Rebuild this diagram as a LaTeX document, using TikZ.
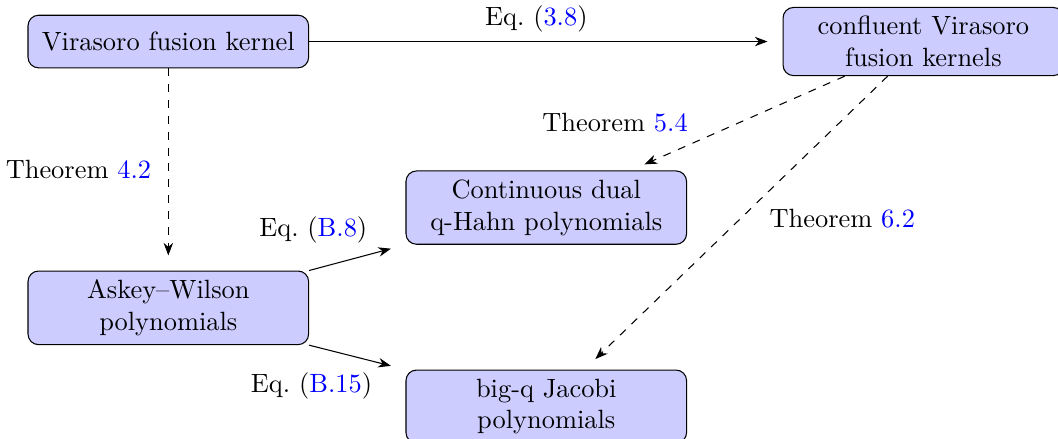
\documentclass[tikz,border=0pt]{standalone}
\usetikzlibrary{positioning, arrows.meta}
\definecolor{boxcol}{RGB}{204, 204, 255}
\definecolor{refcol}{RGB}{0, 0, 255}
\newcommand{\refnum}[1]{\textcolor{refcol}{#1}}
\tikzset{
  objbox/.style={draw, rounded corners, fill=boxcol, text width=3.5cm,
                 minimum height=0.7cm, align=center},
  link/.style={-{Stealth}, shorten >=2mm},
  limit/.style={link, dashed},
}

\begin{document}
\begin{tikzpicture}
  \useasboundingbox (-2.24, 0.553) rectangle (11.84, -5.28);

  \node[objbox]                       (vfk)  {Virasoro fusion kernel};
  \node[objbox, right=6.3cm of vfk]   (cvfk) {confluent Virasoro\\fusion kernels};
  \node[objbox, below=2.69cm of vfk]  (aw)   {Askey--Wilson\\polynomials};
  \node[objbox] at (5.03, -2.21)      (cdqh) {Continuous dual\\q-Hahn polynomials};
  \node[objbox, below=1.66cm of cdqh] (bqj)  {big-q Jacobi\\polynomials};

  \draw[link]  (vfk) -- node[above, pos=0.48] {Eq.~(\refnum{3.8})} (cvfk);
  \draw[limit] (vfk) -- node[left=3pt] {Theorem~\refnum{4.2}} (aw);
  \draw[link]  (aw.north east) -- node[above left, pos=0.7] {Eq.~(\refnum{B.8})} (cdqh.south west);
  \draw[link]  (aw.south east) -- node[below left, pos=0.75] {Eq.~(\refnum{B.15})} (bqj.north west);
  \draw[limit] (cvfk) -- node[above left, pos=0.69] {Theorem~\refnum{5.4}} (cdqh);
  \draw[limit] (cvfk) -- node[below right, pos=0.42] {Theorem~\refnum{6.2}} (bqj);
\end{tikzpicture}
\end{document}
